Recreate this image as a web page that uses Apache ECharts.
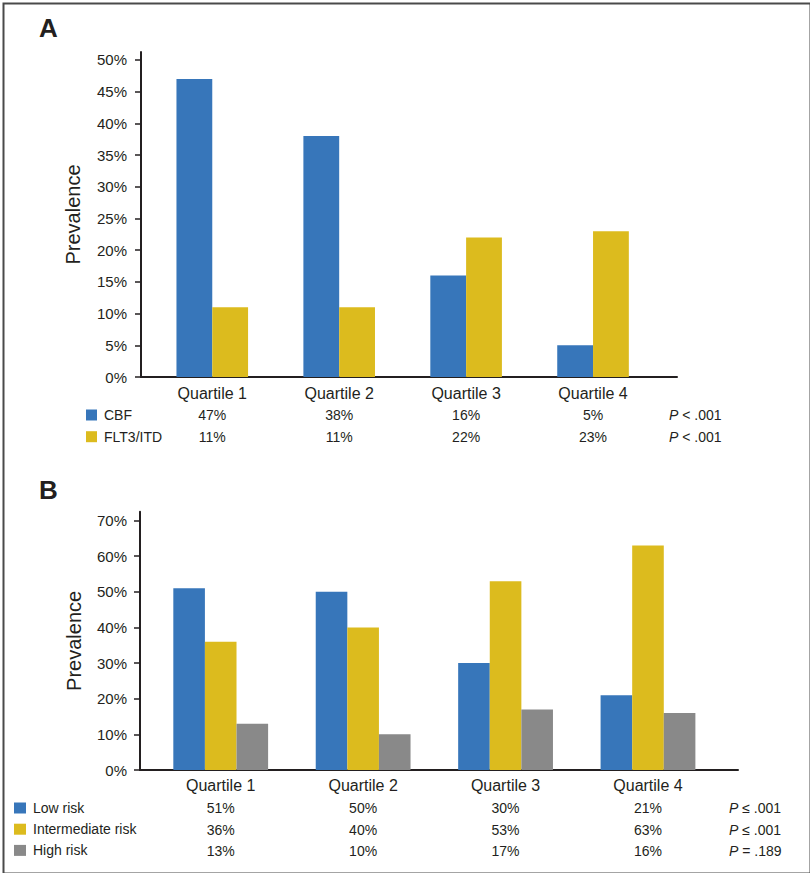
<!DOCTYPE html>
<html>
<head>
<meta charset="utf-8">
<script src="https://cdn.jsdelivr.net/npm/echarts@6/dist/echarts.min.js"></script>
<style>
html,body{margin:0;padding:0;background:#fff;}
#chart{width:810px;height:873px;}
</style>
</head>
<body>
<div id="chart"></div>
<script>
// ---- data ----
var categories = ['Quartile 1', 'Quartile 2', 'Quartile 3', 'Quartile 4'];
// Panel A
var seriesNamesA = ['CBF', 'FLT3/ITD'];
var cbf = [47, 38, 16, 5];
var flt3itd = [11, 11, 22, 23];
var pValuesA = ['< .001', '< .001'];
var yTicksA = [0, 5, 10, 15, 20, 25, 30, 35, 40, 45, 50];
// Panel B
var seriesNamesB = ['Low risk', 'Intermediate risk', 'High risk'];
var lowRisk = [51, 50, 30, 21];
var intermediateRisk = [36, 40, 53, 63];
var highRisk = [13, 10, 17, 16];
var pValuesB = ['\u2264 .001', '\u2264 .001', '= .189'];
var yTicksB = [0, 10, 20, 30, 40, 50, 60, 70];

// ---- style ----
var BLUE = '#3776ba', YELLOW = '#dcbb1e', GRAY = '#898989', INK = '#231f20';
var FONT = 'Liberation Sans, Arial, Helvetica, sans-serif';

function pct(arr) { return arr.map(function (v) { return v + '%'; }); }

function frameX(grid) {
  return { type: 'value', gridIndex: grid, min: 0, max: 1, axisLine: { show: true, lineStyle: { color: INK, width: 2 } },
    axisTick: { show: false }, axisLabel: { show: false }, splitLine: { show: false } };
}
function frameY(grid, max, ticks, margin, nameGap) {
  return { type: 'value', gridIndex: grid, min: 0, max: max,
    name: 'Prevalence', nameLocation: 'middle', nameGap: nameGap,
    nameTextStyle: { fontFamily: FONT, fontSize: 20, color: INK },
    axisLine: { show: true, lineStyle: { color: INK, width: 2 } },
    axisTick: { show: true, length: 6, customValues: ticks, lineStyle: { color: INK, width: 1.5 } },
    axisLabel: { show: true, customValues: ticks, margin: margin, formatter: '{value}%', fontFamily: FONT, fontSize: 15, color: INK },
    splitLine: { show: false } };
}
function hiddenY(grid, max) {
  return { type: 'value', gridIndex: grid, min: 0, max: max, show: false, splitLine: { show: false } };
}
function catX(grid, data, offset, margin, fontSize) {
  return { type: 'category', gridIndex: grid, data: data, position: 'bottom', offset: offset,
    axisLine: { show: false }, axisTick: { show: false }, splitLine: { show: false },
    axisLabel: { interval: 0, margin: margin, fontFamily: FONT, fontSize: fontSize, color: INK } };
}
function pText(x, y, txt) {
  return { type: 'text', left: x, top: y,
    style: { text: '{i|P} ' + txt, font: '14px ' + FONT, fill: INK,
      rich: { i: { fontStyle: 'italic', fontFamily: FONT, fontSize: 14, fill: INK } } } };
}

var chart = echarts.init(document.getElementById('chart'), null, { renderer: 'svg' });

var option = {
  backgroundColor: '#fff',
  animation: false,
  title: [
    { text: 'A', left: 39, top: 15, padding: 0, textStyle: { fontFamily: FONT, fontSize: 26, fontWeight: 'bold', color: INK } },
    { text: 'B', left: 39, top: 477, padding: 0, textStyle: { fontFamily: FONT, fontSize: 26, fontWeight: 'bold', color: INK } }
  ],
  grid: [
    { left: 141, right: 133, top: 52, bottom: 496 },      // A frame
    { left: 148.8, width: 507.7, top: 52, bottom: 496 },  // A bars
    { left: 140, right: 72, top: 511.7, bottom: 103 },    // B frame
    { left: 149.5, width: 569.7, top: 511.7, bottom: 103 } // B bars
  ],
  legend: [
    { data: seriesNamesA, orient: 'vertical', left: 86, top: 408, itemWidth: 11, itemHeight: 11, itemGap: 7.7,
      icon: 'rect', selectedMode: false, padding: 0,
      textStyle: { fontFamily: FONT, fontSize: 14, color: INK, padding: [0, 0, 0, 2] } },
    { data: seriesNamesB, orient: 'vertical', left: 14, top: 801, itemWidth: 12, itemHeight: 11, itemGap: 7.2,
      icon: 'rect', selectedMode: false, padding: 0,
      textStyle: { fontFamily: FONT, fontSize: 14, color: INK, padding: [0, 0, 0, 2] } }
  ],
  xAxis: [
    frameX(0),
    catX(1, categories, 0, 8, 16),
    catX(1, pct(cbf), 31, 0, 14),
    catX(1, pct(flt3itd), 52.7, 0, 14),
    frameX(2),
    catX(3, categories, 0, 7, 16),
    catX(3, pct(lowRisk), 31.3, 0, 14),
    catX(3, pct(intermediateRisk), 53, 0, 14),
    catX(3, pct(highRisk), 73.7, 0, 14)
  ],
  yAxis: [
    frameY(0, 51.25, yTicksA, 14, 58),
    hiddenY(1, 51.25),
    frameY(2, 72.5, yTicksB, 13, 56),
    hiddenY(3, 72.5)
  ],
  series: [
    { name: seriesNamesA[0], type: 'bar', xAxisIndex: 1, yAxisIndex: 1, data: cbf, barWidth: 35.8, barGap: '0%', itemStyle: { color: BLUE } },
    { name: seriesNamesA[1], type: 'bar', xAxisIndex: 1, yAxisIndex: 1, data: flt3itd, barWidth: 35.8, barGap: '0%', itemStyle: { color: YELLOW } },
    { name: seriesNamesB[0], type: 'bar', xAxisIndex: 5, yAxisIndex: 3, data: lowRisk, barWidth: 31.6, barGap: '0%', itemStyle: { color: BLUE } },
    { name: seriesNamesB[1], type: 'bar', xAxisIndex: 5, yAxisIndex: 3, data: intermediateRisk, barWidth: 31.6, barGap: '0%', itemStyle: { color: YELLOW } },
    { name: seriesNamesB[2], type: 'bar', xAxisIndex: 5, yAxisIndex: 3, data: highRisk, barWidth: 31.6, barGap: '0%', itemStyle: { color: GRAY } }
  ],
  graphic: [
    { type: 'rect', left: 1, top: 1, shape: { x: 0, y: 0, width: 807, height: 870 }, style: { fill: 'none', stroke: '#4a4a4a', lineWidth: 2 }, silent: true },
    pText(669, 408, pValuesA[0]),
    pText(669, 430, pValuesA[1]),
    pText(729, 801, pValuesB[0]),
    pText(729, 823, pValuesB[1]),
    pText(729, 844, pValuesB[2])
  ]
};
chart.setOption(option);
</script>
</body>
</html>
